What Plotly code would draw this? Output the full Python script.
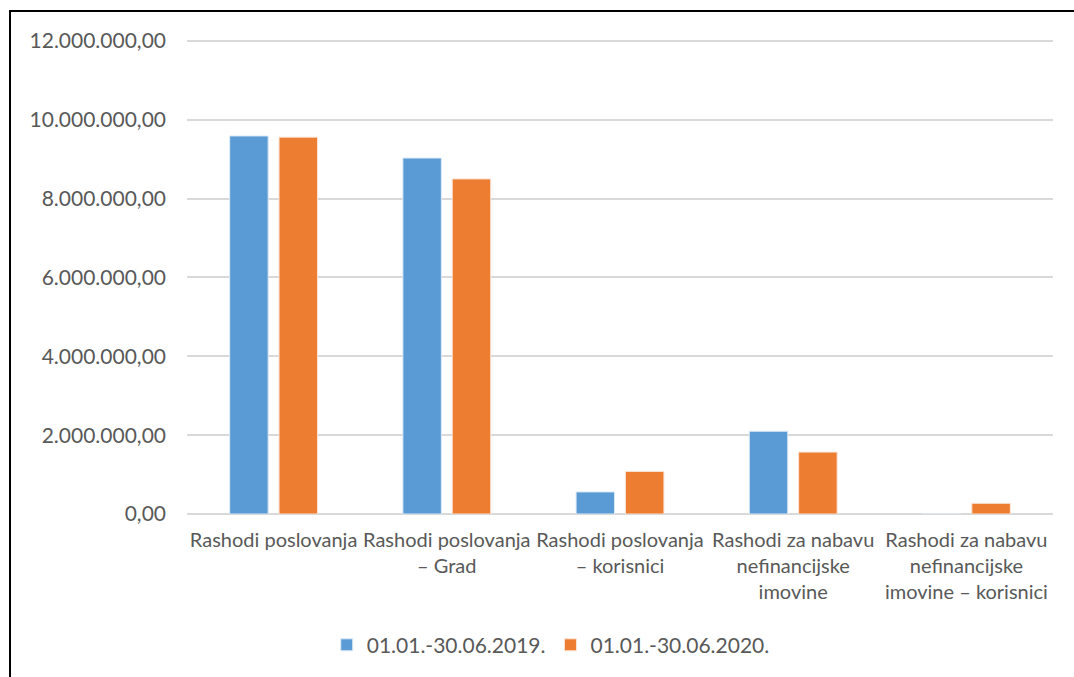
import plotly.graph_objects as go

categories = [
    "Rashodi poslovanja",
    "Rashodi poslovanja<br>– Grad",
    "Rashodi poslovanja<br>– korisnici",
    "Rashodi za nabavu<br>nefinancijske<br>imovine",
    "Rashodi za nabavu<br>nefinancijske<br>imovine – korisnici",
]
series_2019 = [9590000, 9030000, 560000, 2100000, 0]
series_2020 = [9560000, 8500000, 1080000, 1570000, 270000]
name_2019 = "01.01.-30.06.2019."
name_2020 = "01.01.-30.06.2020."
tick_vals = [0, 2000000, 4000000, 6000000, 8000000, 10000000, 12000000]

text_color = "#595959"
font_family = "Lato, Carlito, 'Liberation Sans', sans-serif"

fig = go.Figure()
fig.add_trace(go.Bar(x=categories, y=series_2019, name=name_2019,
                     marker=dict(color="#5B9BD5", line=dict(color="#DDEBF7", width=1))))
fig.add_trace(go.Bar(x=categories, y=series_2020, name=name_2020,
                     marker=dict(color="#ED7D31", line=dict(color="#FBE3D6", width=1))))

fig.update_layout(
    width=1074, height=677,
    margin=dict(l=187, r=21, t=37, b=163, autoexpand=False),
    paper_bgcolor="white", plot_bgcolor="white",
    separators=",.",
    bargap=0.43, bargroupgap=0.22,
    font=dict(family=font_family, color=text_color, size=20),
    legend=dict(orientation="h", x=0.42, xanchor="center", y=-0.275, yanchor="middle",
                font=dict(size=21, color=text_color), itemwidth=30),
    showlegend=True,
)
fig.update_yaxes(range=[0, 12100000], tickvals=tick_vals, tickformat=",.2f",
                 showgrid=True, gridcolor="#D9D9D9", gridwidth=1.5,
                 zeroline=True, zerolinecolor="#D9D9D9", zerolinewidth=1.5,
                 showline=False, ticklabelstandoff=20, automargin=False,
                 tickfont=dict(size=21, color=text_color))
fig.update_xaxes(showgrid=False, showline=False, ticks="", ticklabelstandoff=12,
                 automargin=False, tickfont=dict(size=20, color=text_color), tickangle=0)

# outer chart frame (top and left edges visible)
fig.add_shape(type="rect", xref="paper", yref="paper",
              x0=(10 - 187) / 866, x1=1.2, y0=-0.5, y1=(514 - 11) / 477,
              line=dict(color="black", width=2), layer="below")

fig.write_html("out.html", config={"displayModeBar": False},
               post_script="document.body.style.margin='0';document.body.style.overflow='hidden';")
